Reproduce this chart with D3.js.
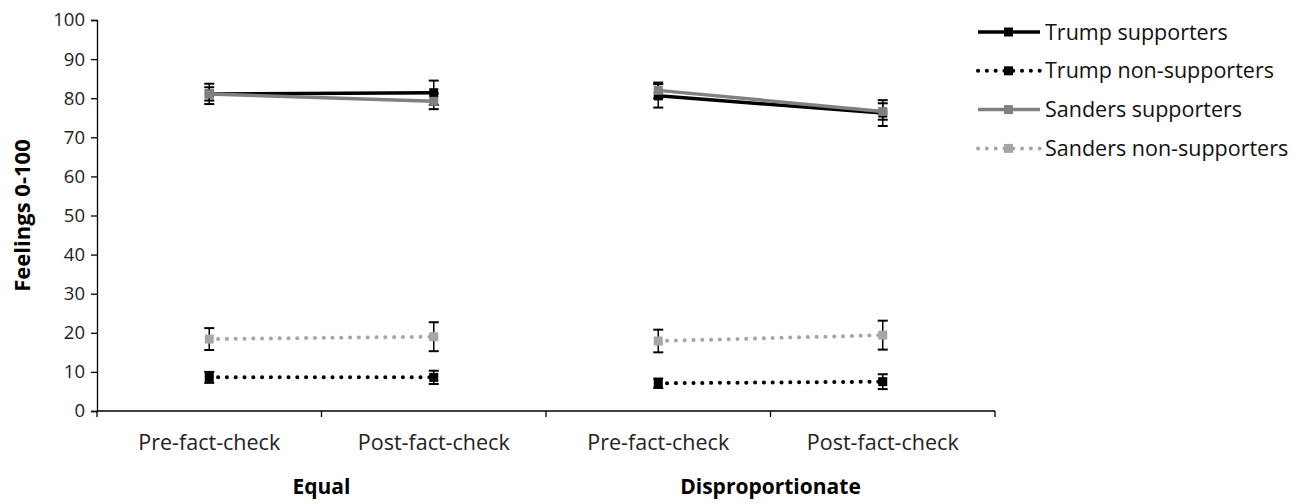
<!DOCTYPE html>
<html>
<head>
<meta charset="utf-8">
<script src="https://cdn.jsdelivr.net/npm/d3@7"></script>
<style>
  body { margin: 0; background: #fff; }
  svg { display: block; font-family: "Open Sans", sans-serif; }
</style>
</head>
<body>
<div class="chart"></div>
<script>
// categories along x (two conditions inside each group)
var conditions = ["Pre-fact-check", "Post-fact-check", "Pre-fact-check", "Post-fact-check"],
    groups = ["Equal", "Disproportionate"],
    yTicks = [0, 10, 20, 30, 40, 50, 60, 70, 80, 90, 100];

// series values and error bars
var seriesNames = ["Trump supporters", "Trump non-supporters", "Sanders supporters", "Sanders non-supporters"];
var trumpSup = [81.1, 81.4, 80.6, 76.2],
    trumpSupErr = [2.6, 3.1, 3.0, 3.3];
var trumpNon = [8.6, 8.6, 7.1, 7.5],
    trumpNonErr = [1.4, 1.7, 1.2, 1.9];
var sandersSup = [81.1, 79.2, 82.0, 76.6],
    sandersSupErr = [1.7, 2.0, 2.0, 2.1];
var sandersNon = [18.4, 19.0, 17.9, 19.4],
    sandersNonErr = [2.8, 3.7, 2.9, 3.7];

var series = [
    { name: seriesNames[0], values: trumpSup, err: trumpSupErr, color: "#000000", dotted: false },
    { name: seriesNames[1], values: trumpNon, err: trumpNonErr, color: "#000000", dotted: true },
    { name: seriesNames[2], values: sandersSup, err: sandersSupErr, color: "#808080", dotted: false },
    { name: seriesNames[3], values: sandersNon, err: sandersNonErr, color: "#a6a6a6", dotted: true }
];

var W = 1307, H = 504;
var plotLeft = 97, plotRight = 995, plotTop = 20, plotBottom = 411;

var svg = d3.select(".chart").append("svg")
    .attr("width", W)
    .attr("height", H);

var keys = conditions.map(function (d, i) { return i; });

var x = d3.scaleBand()
    .domain(keys)
    .range([plotLeft, plotRight])
    .padding(0);

var y = d3.scaleLinear()
    .domain([0, 100])
    .range([plotBottom, plotTop]);

function cx(i) { return x(i) + x.bandwidth() / 2; }

// y axis
var yAxis = svg.append("g")
    .attr("transform", "translate(" + plotLeft + ",0)")
    .call(d3.axisLeft(y).tickValues(yTicks).tickSize(6).tickPadding(6));
yAxis.select(".domain").attr("stroke", "#000").attr("stroke-width", 1.3);
yAxis.selectAll(".tick line").attr("stroke", "#000").attr("stroke-width", 1.3);
yAxis.selectAll(".tick text")
    .attr("fill", "#222")
    .style("font-size", "18.5px")
    .style("font-family", "Open Sans");

// x axis line + ticks at band edges
svg.append("line")
    .attr("x1", plotLeft).attr("x2", plotRight)
    .attr("y1", y(0)).attr("y2", y(0))
    .attr("stroke", "#000").attr("stroke-width", 1.3);

var edges = keys.map(function (k) { return x(k); }).concat([plotRight]);
svg.selectAll(".xtick")
    .data(edges)
    .enter().append("line")
    .attr("class", "xtick")
    .attr("x1", function (d) { return d; })
    .attr("x2", function (d) { return d; })
    .attr("y1", y(0))
    .attr("y2", y(0) + 6)
    .attr("stroke", "#000").attr("stroke-width", 1.3);

svg.selectAll(".cond")
    .data(conditions)
    .enter().append("text")
    .attr("class", "cond")
    .attr("x", function (d, i) { return cx(i); })
    .attr("y", 450)
    .attr("text-anchor", "middle")
    .attr("fill", "#222")
    .style("font-size", "21.5px")
    .text(function (d) { return d; });

svg.selectAll(".grp")
    .data(groups)
    .enter().append("text")
    .attr("class", "grp")
    .attr("x", function (d, i) { return x(i * 2 + 1); })
    .attr("y", 494)
    .attr("text-anchor", "middle")
    .attr("fill", "#000")
    .style("font-size", "21px")
    .style("font-weight", "bold")
    .text(function (d) { return d; });

// y title
svg.append("text")
    .attr("transform", "translate(30," + (plotTop + plotBottom) / 2 + ") rotate(-90)")
    .attr("text-anchor", "middle")
    .attr("fill", "#000")
    .style("font-size", "22px")
    .style("font-weight", "bold")
    .text("Feelings 0-100");

// error bars first (black)
series.forEach(function (s) {
    var g = svg.append("g");
    s.values.forEach(function (v, i) {
        var hi = y(v + s.err[i]), lo = y(v - s.err[i]);
        g.append("line")
            .attr("x1", cx(i)).attr("x2", cx(i))
            .attr("y1", hi).attr("y2", lo)
            .attr("stroke", "#000").attr("stroke-width", 1.5);
        [hi, lo].forEach(function (yy) {
            g.append("line")
                .attr("x1", cx(i) - 5).attr("x2", cx(i) + 5)
                .attr("y1", yy).attr("y2", yy)
                .attr("stroke", "#000").attr("stroke-width", 2);
        });
    });
});

var line = d3.line()
    .x(function (d) { return cx(d.i); })
    .y(function (d) { return y(d.v); });

function styleLine(sel, s) {
    sel.attr("fill", "none")
        .attr("stroke", s.color)
        .attr("stroke-width", s.dotted ? 4 : 3.5)
        .attr("stroke-linecap", s.dotted ? "round" : "butt")
        .attr("stroke-dasharray", s.dotted ? "0.1 8.7" : null);
}

series.forEach(function (s) {
    var g = svg.append("g");
    groups.forEach(function (grp, gi) {
        var pts = [gi * 2, gi * 2 + 1].map(function (i) { return { i: i, v: s.values[i] }; });
        g.append("path")
            .attr("d", line(pts))
            .call(styleLine, s);
    });
    g.selectAll("rect")
        .data(s.values)
        .enter().append("rect")
        .attr("x", function (d, i) { return cx(i) - 4.5; })
        .attr("y", function (d) { return y(d) - 4.5; })
        .attr("width", 9)
        .attr("height", 9)
        .attr("fill", s.color);
});

// legend
var legend = svg.append("g").attr("transform", "translate(976,32)");
var rows = legend.selectAll("g")
    .data(series)
    .enter().append("g")
    .attr("transform", function (d, i) { return "translate(0," + i * 38.8 + ")"; });

rows.append("line")
    .attr("x1", 2).attr("x2", 64)
    .attr("y1", 0).attr("y2", 0)
    .each(function (d) { d3.select(this).call(styleLine, d); });
rows.append("rect")
    .attr("x", 28).attr("y", -4.5)
    .attr("width", 9).attr("height", 9)
    .attr("fill", function (d) { return d.color; });
rows.append("text")
    .attr("x", 69)
    .attr("y", 7.5)
    .attr("fill", "#111")
    .style("font-size", "21.5px")
    .text(function (d) { return d.name; });
</script>
</body>
</html>
